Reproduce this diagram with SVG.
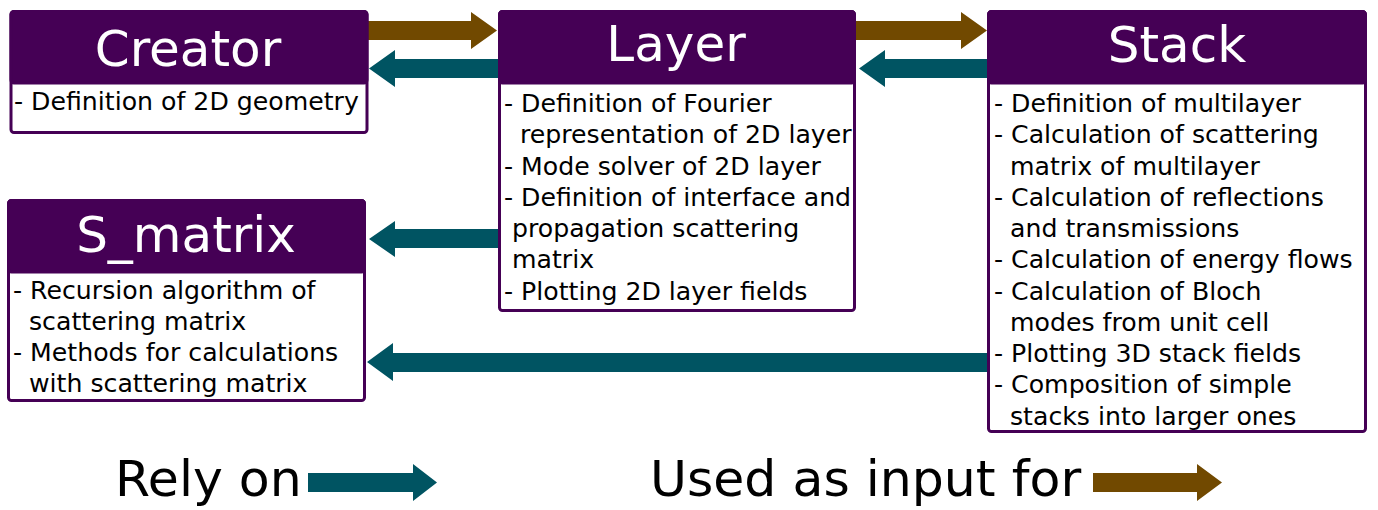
<svg xmlns="http://www.w3.org/2000/svg" width="1378" height="510" viewBox="0 0 1378 510">
<style>
.box{fill:#ffffff;stroke:#450055;stroke-width:3}
.hdr{fill:#450055;stroke:#450055;stroke-width:3}
.title{font-family:"DejaVu Sans",sans-serif;font-size:50px;fill:#ffffff;text-anchor:middle}
.body{font-family:"DejaVu Sans",sans-serif;font-size:25.2px;fill:#000000}
.legend{font-family:"DejaVu Sans",sans-serif;font-size:50.5px;fill:#000000}
.rely{fill:#005462}
.used{fill:#714900}
</style>
<rect width="1378" height="510" fill="#ffffff"/>
<g id="connectors">
<polygon class="used" points="368,21 471,21 471,12 497,30.5 471,49 471,40 368,40"/>
<polygon class="rely" points="498,59 395,59 395,50 369,68.5 395,87 395,78 498,78"/>
<polygon class="used" points="856,21 961,21 961,12 987,30.5 961,49 961,40 856,40"/>
<polygon class="rely" points="988,59 885,59 885,50 859,68.5 885,87 885,78 988,78"/>
<polygon class="rely" points="498,229 395,229 395,221 369,239 395,257 395,248 498,248"/>
<polygon class="rely" points="988,353 393,353 393,343 367,362 393,381 393,372 988,372"/>
</g>
<g id="creator">
<rect class="box" x="11" y="11.5" width="356" height="121" rx="3"/>
<rect class="hdr" x="11" y="11.5" width="356" height="71.5" rx="3"/>
<text class="title" x="188" y="66">Creator</text>
<text class="body" x="14" y="109.5">- Definition of 2D geometry</text>
</g>
<g id="layer">
<rect class="box" x="499.5" y="11.5" width="355" height="299" rx="3"/>
<rect class="hdr" x="499.5" y="11.5" width="355" height="71.5" rx="3"/>
<text class="title" x="676" y="61">Layer</text>
<text class="body" x="504" y="112">- Definition of Fourier</text>
<text class="body" x="520" y="143.25">representation of 2D layer</text>
<text class="body" x="504" y="174.5">- Mode solver of 2D layer</text>
<text class="body" x="504" y="205.75">- Definition of interface and</text>
<text class="body" x="512" y="237">propagation scattering</text>
<text class="body" x="512" y="268.25">matrix</text>
<text class="body" x="504" y="299.5">- Plotting 2D layer fields</text>
</g>
<g id="stack">
<rect class="box" x="988.5" y="11.5" width="377" height="420" rx="3"/>
<rect class="hdr" x="988.5" y="11.5" width="377" height="71.5" rx="3"/>
<text class="title" x="1177" y="62">Stack</text>
<text class="body" x="994" y="112">- Definition of multilayer</text>
<text class="body" x="994" y="143.25">- Calculation of scattering</text>
<text class="body" x="1010" y="174.5">matrix of multilayer</text>
<text class="body" x="994" y="205.75">- Calculation of reflections</text>
<text class="body" x="1010" y="237">and transmissions</text>
<text class="body" x="994" y="268.25">- Calculation of energy flows</text>
<text class="body" x="994" y="299.5">- Calculation of Bloch</text>
<text class="body" x="1010" y="330.75">modes from unit cell</text>
<text class="body" x="994" y="362">- Plotting 3D stack fields</text>
<text class="body" x="994" y="393.25">- Composition of simple</text>
<text class="body" x="1010" y="424.5">stacks into larger ones</text>
</g>
<g id="s_matrix">
<rect class="box" x="8.5" y="200.5" width="356" height="200" rx="3"/>
<rect class="hdr" x="8.5" y="200.5" width="356" height="71.5" rx="3"/>
<text class="title" x="186" y="252">S_matrix</text>
<text class="body" x="13" y="298.5">- Recursion algorithm of</text>
<text class="body" x="29" y="329.75">scattering matrix</text>
<text class="body" x="13" y="361">- Methods for calculations</text>
<text class="body" x="29" y="392.25">with scattering matrix</text>
</g>
<g id="legend">
<text class="legend" x="115" y="496">Rely on</text>
<polygon class="rely" points="308,473 413,473 413,464 437,482.5 413,501 413,492 308,492"/>
<text class="legend" x="650" y="496">Used as input for</text>
<polygon class="used" points="1093,473 1197,473 1197,464 1222,482.5 1197,501 1197,492 1093,492"/>
</g>
</svg>
